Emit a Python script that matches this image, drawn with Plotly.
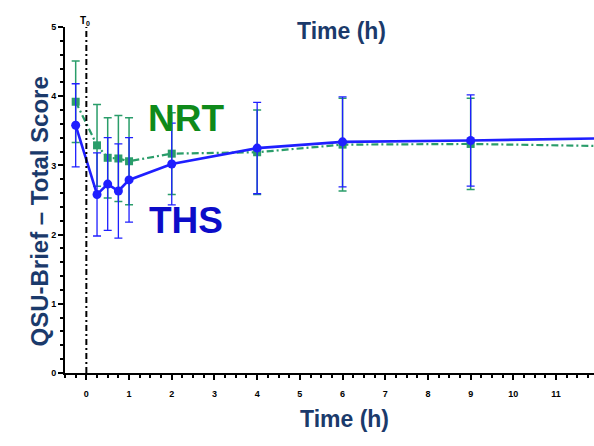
import plotly.graph_objects as go

# Sampling times (h); the pre-product baseline sits just left of T0
time_h = [-0.25, 0.25, 0.5, 0.75, 1, 2, 4, 6, 9, 12]

# QSU-Brief total score, mean and SD per group
ths_mean = [3.58, 2.58, 2.73, 2.63, 2.79, 3.02, 3.25, 3.34, 3.36, 3.39]
ths_sd = [0.60, 0.60, 0.67, 0.68, 0.61, 0.59, 0.66, 0.65, 0.66, 0.66]
nrt_mean = [3.92, 3.29, 3.11, 3.10, 3.06, 3.17, 3.19, 3.30, 3.31, 3.28]
nrt_sd = [0.59, 0.59, 0.58, 0.62, 0.63, 0.59, 0.61, 0.67, 0.66, 0.66]

x_ticks = [0, 1, 2, 3, 4, 5, 6, 7, 8, 9, 10, 11]
y_ticks = [0, 1, 2, 3, 4, 5]

BLUE = "#1f1fff"
GREEN = "#2a9d6a"
NAVY = "#1b3a6b"
FONT = "Liberation Sans, Arial, sans-serif"

W, H = 594, 446
ML, MR, MT, MB = 65, 0, 27, 73
PW, PH = W - ML - MR, H - MT - MB


def px_x(p):
    return (p - ML) / PW


def px_y(p):
    return (H - MB - p) / PH


fig = go.Figure()

fig.add_trace(go.Scatter(
    x=time_h, y=nrt_mean, name="NRT", mode="lines+markers",
    line=dict(color=GREEN, width=2.2, dash="7px,3px,2px,3px"),
    marker=dict(symbol="square", size=8, color=GREEN),
    error_y=dict(type="data", array=nrt_sd, visible=True,
                 color=GREEN, thickness=1.5, width=4),
))

fig.add_trace(go.Scatter(
    x=time_h, y=ths_mean, name="THS", mode="lines+markers",
    line=dict(color=BLUE, width=2.6),
    marker=dict(symbol="circle", size=9, color=BLUE),
    error_y=dict(type="data", array=ths_sd, visible=True,
                 color=BLUE, thickness=1.3, width=4),
))

# T0 reference line
fig.add_shape(type="line", xref="x", yref="y", x0=0, x1=0, y0=0, y1=5,
              line=dict(color="black", width=2, dash="6px,3px,2px,3px"))

annotations = [
    dict(text="T<sub>0</sub>", x=-0.03, y=px_y(13), xref="x", yref="paper",
         showarrow=False, font=dict(family=FONT, size=10, color="black", weight="bold")),
    dict(text="NRT", x=2.34, y=3.68, xref="x", yref="y", showarrow=False,
         font=dict(family=FONT, size=37, color="#0f8a1a", weight="bold")),
    dict(text="THS", x=2.34, y=2.21, xref="x", yref="y", showarrow=False,
         font=dict(family=FONT, size=37, color="#0c0cc8", weight="bold")),
    dict(text="Time (h)", x=px_x(341), y=px_y(16), xref="paper", yref="paper",
         showarrow=False, font=dict(family=FONT, size=23, color=NAVY, weight="bold")),
    dict(text="Time (h)", x=px_x(344), y=px_y(434), xref="paper", yref="paper",
         showarrow=False, font=dict(family=FONT, size=23, color=NAVY, weight="bold")),
    dict(text="QSU-Brief \u2013 Total Score", x=px_x(23), y=px_y(212),
         xref="paper", yref="paper", textangle=-90, showarrow=False,
         font=dict(family=FONT, size=24, color=NAVY, weight="bold")),
]

fig.update_layout(
    width=W, height=H,
    margin=dict(l=ML, r=MR, t=MT, b=MB),
    paper_bgcolor="white", plot_bgcolor="white",
    showlegend=False,
    annotations=annotations,
    xaxis=dict(
        range=[-0.5, -0.5 + PW / 42.7], tickvals=x_ticks,
        showgrid=False, zeroline=False,
        showline=True, linecolor="black", linewidth=2,
        ticks="outside", ticklen=5, tickwidth=2, tickcolor="black",
        ticklabelstandoff=6,
        minor=dict(dtick=0.25, tick0=0, ticks="outside", ticklen=3,
                   tickwidth=1.5, tickcolor="black", showgrid=False),
        tickfont=dict(family=FONT, size=9, color="black", weight="bold"),
    ),
    yaxis=dict(
        range=[0, 5], tickvals=y_ticks,
        showgrid=False, zeroline=False,
        showline=True, linecolor="black", linewidth=2,
        ticks="outside", ticklen=5, tickwidth=2, tickcolor="black",
        minor=dict(dtick=0.2, tick0=0, ticks="outside", ticklen=3,
                   tickwidth=1.5, tickcolor="black", showgrid=False),
        tickfont=dict(family=FONT, size=9, color="black", weight="bold"),
    ),
)

fig.write_html("out.html")
